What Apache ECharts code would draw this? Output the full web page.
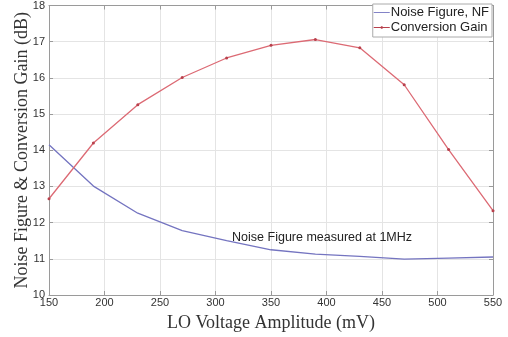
<!DOCTYPE html>
<html>
<head>
<meta charset="utf-8">
<script src="https://cdn.jsdelivr.net/npm/echarts@6/dist/echarts.min.js"></script>
<style>
  html, body { margin: 0; padding: 0; background: #fff; }
  #chart { width: 508px; height: 337px; }
</style>
</head>
<body>
<div id="chart"></div>
<script>
var loVoltage = [150, 190, 230, 270, 310, 350, 390, 430, 470, 510, 550];
var noiseFigure = [14.15, 13.01, 12.26, 11.78, 11.5, 11.25, 11.13, 11.07, 10.99, 11.02, 11.05];
var conversionGain = [12.66, 14.2, 15.26, 16.01, 16.55, 16.9, 17.06, 16.83, 15.81, 14.02, 12.33];
var noteText = 'Noise Figure measured at 1MHz';
var notePos = [396, 11.6];

(function() {
  var chart = echarts.init(document.getElementById('chart'), null, { renderer: 'canvas' });
  var frame = '#9a9a9a';
  var gridCol = '#e4e4e4';
  var tickFont = { color: '#333', fontFamily: 'Liberation Sans, Arial', fontSize: 11 };
  var titleFont = { color: '#333', fontFamily: 'Liberation Serif, Times New Roman', fontSize: 18 };

  function pairs(ys) {
    return loVoltage.map(function(x, i) { return [x, ys[i]]; });
  }

  chart.setOption({
    animation: false,
    grid: { left: 49, right: 15, top: 3, bottom: 32, containLabel: false },
    legend: {
      orient: 'vertical',
      right: 16,
      top: 4,
      itemWidth: 16,
      itemHeight: 8,
      itemGap: 2,
      padding: [2, 3, 3, 1],
      backgroundColor: '#fff',
      borderColor: '#aaa',
      borderWidth: 1,
      textStyle: { fontFamily: 'Liberation Sans, Arial', fontSize: 13, color: '#222', padding: [0, 0, 0, -4] },
      data: [
        { name: 'Noise Figure, NF', icon: 'path://M0,4 L18,4 L18,5 L0,5 Z' },
        { name: 'Conversion Gain', icon: 'path://M0,4 L18,4 L18,5 L0,5 Z M8,3 L10,3 L10,6 L8,6 Z' }
      ]
    },
    xAxis: [{
      type: 'value',
      min: 150, max: 550, interval: 50,
      name: 'LO Voltage Amplitude (mV)',
      nameLocation: 'middle',
      nameGap: 19,
      nameMoveOverlap: false,
      nameTextStyle: titleFont,
      axisLine: { show: true, lineStyle: { color: frame } },
      axisTick: { show: true, inside: true, length: 4, lineStyle: { color: frame } },
      axisLabel: Object.assign({ margin: 2 }, tickFont),
      splitLine: { show: true, lineStyle: { color: gridCol } }
    }, {
      type: 'value', position: 'top',
      min: 150, max: 550, interval: 50,
      axisLine: { show: true, lineStyle: { color: frame } },
      axisTick: { show: true, inside: true, length: 4, lineStyle: { color: frame } },
      axisLabel: { show: false },
      splitLine: { show: false }
    }],
    yAxis: [{
      type: 'value',
      min: 10, max: 18, interval: 1,
      name: 'Noise Figure & Conversion Gain (dB)',
      nameLocation: 'middle',
      nameGap: 18,
      nameMoveOverlap: false,
      nameTextStyle: titleFont,
      axisLine: { show: true, lineStyle: { color: frame } },
      axisTick: { show: true, inside: true, length: 4, lineStyle: { color: frame } },
      axisLabel: Object.assign({ margin: 4 }, tickFont),
      splitLine: { show: true, lineStyle: { color: gridCol } }
    }, {
      type: 'value', position: 'right',
      min: 10, max: 18, interval: 1,
      axisLine: { show: true, lineStyle: { color: frame } },
      axisTick: { show: true, inside: true, length: 4, lineStyle: { color: frame } },
      axisLabel: { show: false },
      splitLine: { show: false }
    }],
    series: [{
      name: 'Noise Figure, NF',
      type: 'line',
      data: pairs(noiseFigure),
      showSymbol: false,
      symbol: 'none',
      lineStyle: { color: '#7474c0', width: 1.3 },
      itemStyle: { color: '#7474c0' },
      markPoint: {
        symbol: 'circle',
        symbolSize: 0,
        data: [{ coord: notePos, value: noteText }],
        label: {
          show: true,
          position: 'inside',
          formatter: noteText,
          fontFamily: 'Liberation Sans, Arial',
          fontSize: 12.5,
          color: '#222'
        }
      }
    }, {
      name: 'Conversion Gain',
      type: 'line',
      data: pairs(conversionGain),
      symbol: 'circle',
      symbolSize: 3,
      lineStyle: { color: '#dc6a74', width: 1.3 },
      itemStyle: { color: '#b8404c' }
    }]
  });
  window.addEventListener('resize', function() { chart.resize(); });
})();
</script>
</body>
</html>
